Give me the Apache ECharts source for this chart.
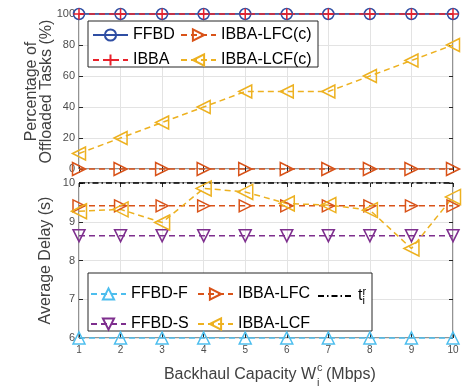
<!DOCTYPE html>
<html>
<head>
<meta charset="utf-8">
<script src="https://cdn.jsdelivr.net/npm/echarts@6/dist/echarts.min.js"></script>
<style>html,body{margin:0;padding:0;background:#fff}#chart{width:471px;height:389px}</style>
</head>
<body>
<div id="chart"></div>
<script>
// backhaul capacity (Mbps)
var capacity = [1, 2, 3, 4, 5, 6, 7, 8, 9, 10];

// top panel: percentage of offloaded tasks (%)
var ffbd     = [100, 100, 100, 100, 100, 100, 100, 100, 100, 100];
var ibba     = [100, 100, 100, 100, 100, 100, 100, 100, 100, 100];
var ibbaLfcC = [0, 0, 0, 0, 0, 0, 0, 0, 0, 0];
var ibbaLcfC = [10, 20, 30, 40, 50, 50, 50, 60, 70, 80];

// bottom panel: average delay (s)
var ffbdF    = [6, 6, 6, 6, 6, 6, 6, 6, 6, 6];
var ffbdS    = [8.64, 8.64, 8.64, 8.64, 8.64, 8.64, 8.64, 8.64, 8.64, 8.64];
var ibbaLfc  = [9.41, 9.41, 9.41, 9.41, 9.41, 9.41, 9.41, 9.41, 9.41, 9.41];
var ibbaLcf  = [9.27, 9.32, 8.98, 9.86, 9.77, 9.47, 9.43, 9.30, 8.31, 9.64];
var deadline = [10, 10, 10, 10, 10, 10, 10, 10, 10, 10];

var font = 'Liberation Sans, Arial, sans-serif';
var axisColor = '#262626';
var plus = 'path://M0,-1L0,1M-1,0L1,0';

function pts(vals) {
    return capacity.map(function (c, i) { return [c, vals[i]]; });
}

function line(name, vals, grid, color, dash, symbol, rotate, size) {
    return {
        name: name,
        type: 'line',
        xAxisIndex: grid,
        yAxisIndex: grid,
        data: pts(vals),
        clip: false,
        symbol: symbol,
        symbolSize: size,
        symbolRotate: rotate,
        lineStyle: {color: color, width: 1.5, type: dash},
        itemStyle: {color: 'rgba(0,0,0,0)', borderColor: color, borderWidth: symbol === 'none' ? 0 : 1.5},
        emphasis: {disabled: true}
    };
}

function legendCol(names, left, top, gap) {
    return {
        data: names,
        orient: 'vertical',
        left: left,
        top: top,
        padding: 0,
        itemWidth: 35,
        itemHeight: 14,
        itemGap: gap,
        selectedMode: false,
        textStyle: {
            fontSize: 16, color: '#000', fontFamily: font,
            rich: {
                t: {fontSize: 16, fontFamily: font, color: '#000'},
                r: {fontSize: 11, fontFamily: font, color: '#000', verticalAlign: 'top', width: 0, lineHeight: 20},
                i: {fontSize: 11, fontFamily: font, color: '#000', verticalAlign: 'bottom', lineHeight: 20}
            }
        },
        formatter: function (n) {
            return n === 'tr' ? '{t|t}{r|r}{i|i}' : n;
        }
    };
}

function xAx(grid, labels, pos) {
    return {
        type: 'value', gridIndex: grid, min: 1, max: 10, interval: 1,
        position: pos,
        axisLine: {show: false},
        axisTick: {show: true, inside: true, length: 4, lineStyle: {color: axisColor}},
        axisLabel: {show: labels, fontSize: 10, color: '#4d4d4d', fontFamily: font, margin: 7},
        splitLine: {show: pos === 'bottom', lineStyle: {color: '#e3e3e3'}}
    };
}

function yAx(grid, min, max, step, pos, name, gap) {
    return {
        type: 'value', gridIndex: grid, min: min, max: max, interval: step,
        position: pos,
        name: name,
        nameLocation: 'middle',
        nameGap: gap,
        nameMoveOverlap: false,
        nameTextStyle: {fontSize: 16, color: '#404040', fontFamily: font, lineHeight: 15},
        axisLine: {show: false},
        axisTick: {show: true, inside: true, length: 4, lineStyle: {color: axisColor}},
        axisLabel: {show: pos === 'left', fontSize: 11, color: '#4d4d4d', fontFamily: font, margin: 4},
        splitLine: {show: pos === 'left', lineStyle: {color: '#e3e3e3'}}
    };
}

var chart = echarts.init(document.getElementById('chart'));

var option = {
    animation: false,
    backgroundColor: '#fff',
    grid: [
        {left: 79, top: 14, width: 374, height: 155, show: true, borderColor: axisColor, borderWidth: 1},
        {left: 79, top: 183, width: 374, height: 155, show: true, borderColor: axisColor, borderWidth: 1}
    ],
    xAxis: [xAx(0, false, 'bottom'), xAx(1, true, 'bottom'), xAx(0, false, 'top'), xAx(1, false, 'top')],
    yAxis: [
        yAx(0, 0, 100, 20, 'left', 'Percentage of\nOffloaded Tasks (%)', 25),
        yAx(1, 6, 10, 1, 'left', 'Average Delay (s)', 26),
        yAx(0, 0, 100, 20, 'right', '', 0),
        yAx(1, 6, 10, 1, 'right', '', 0)
    ],
    legend: [
        legendCol(['FFBD', 'IBBA'], 92, 27, 9),
        legendCol(['IBBA-LFC(c)', 'IBBA-LCF(c)'], 180, 27, 9),
        legendCol(['FFBD-F', 'FFBD-S'], 90, 286, 14),
        legendCol(['IBBA-LFC', 'IBBA-LCF'], 197, 286, 14),
        legendCol(['tr'], 317, 286, 14)
    ],
    graphic: [
        {type: 'rect', z: 3, shape: {x: 88, y: 21, width: 230, height: 46},
            style: {fill: '#fff', stroke: axisColor, lineWidth: 1}},
        {type: 'rect', z: 3, shape: {x: 88, y: 273, width: 284, height: 58},
            style: {fill: '#fff', stroke: axisColor, lineWidth: 1}},
        {type: 'text', x: 316, y: 375,
            style: {text: 'Backhaul Capacity W', font: '16px ' + font, fill: '#404040', align: 'right', verticalAlign: 'middle'}},
        {type: 'text', x: 317, y: 368,
            style: {text: 'c', font: '11px ' + font, fill: '#404040', align: 'left', verticalAlign: 'middle'}},
        {type: 'text', x: 317, y: 383,
            style: {text: 'i', font: '11px ' + font, fill: '#404040', align: 'left', verticalAlign: 'middle'}},
        {type: 'text', x: 326, y: 375,
            style: {text: '(Mbps)', font: '16px ' + font, fill: '#404040', align: 'left', verticalAlign: 'middle'}}
    ],
    series: [
        line('FFBD', ffbd, 0, '#2f4ea3', 'solid', 'circle', 0, 11),
        line('IBBA', ibba, 0, '#e8212b', [6, 4], plus, 0, 11),
        line('IBBA-LFC(c)', ibbaLfcC, 0, '#d95319', [6, 4], 'triangle', -90, 13),
        line('IBBA-LCF(c)', ibbaLcfC, 0, '#edb120', [6, 4], 'triangle', 90, 13),
        line('FFBD-F', ffbdF, 1, '#4dbeee', [6, 4], 'triangle', 0, 12),
        line('FFBD-S', ffbdS, 1, '#7e2f8e', [6, 4], 'triangle', 180, 12),
        line('IBBA-LFC', ibbaLfc, 1, '#d95319', [6, 4], 'triangle', -90, 12),
        line('IBBA-LCF', ibbaLcf, 1, '#edb120', [6, 4], 'triangle', 90, 15),
        line('tr', deadline, 1, '#000', [6, 3, 1.5, 3], 'none', 0, 0)
    ]
};

chart.setOption(option);
</script>
</body>
</html>
